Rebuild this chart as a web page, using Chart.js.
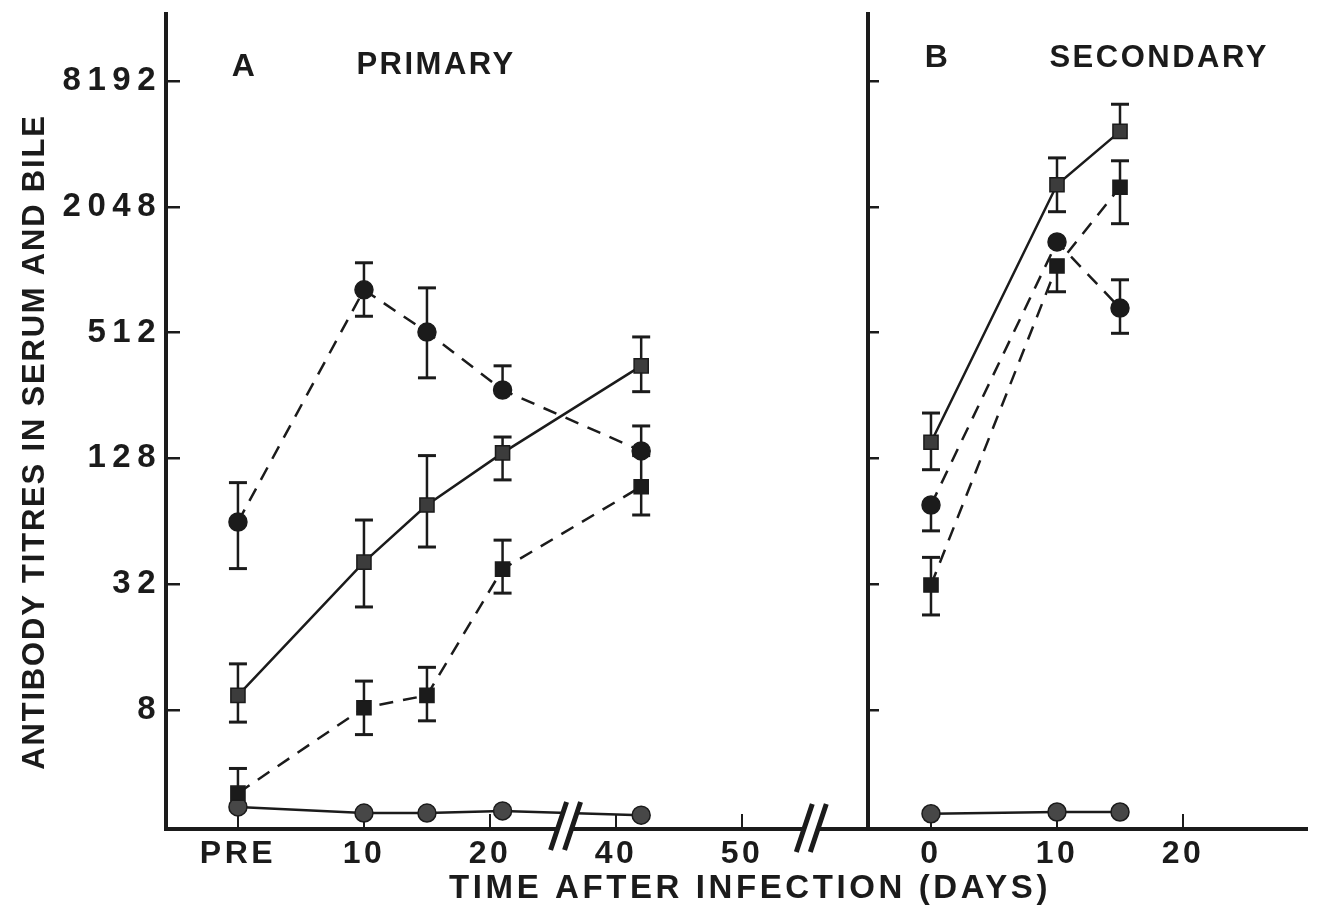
<!DOCTYPE html>
<html>
<head>
<meta charset="utf-8">
<title>Antibody titres after infection</title>
<script src="https://cdn.jsdelivr.net/npm/chart.js@4/dist/chart.umd.min.js"></script>
<style>
  html, body { margin: 0; padding: 0; background: #fff; }
  #wrap { width: 1319px; height: 916px; }
</style>
</head>
<body>
<div id="wrap"><canvas id="titres" width="1319" height="916"></canvas></div>
<script>
"use strict";

// sampling days
var days_a = [0, 10, 15, 21, 42];
var days_b = [0, 10, 15];

// A - primary response (titres, with upper / lower ends of the bars)
var a_circ_dash = [63.5, 820, 515, 272, 139];
var a_circ_dash_hi = [98, 1105, 838, 355, 183];
var a_circ_dash_lo = [38, 613, 311, null, null];

var a_sq_solid = [9.4, 40.8, 76.6, 136, 355];
var a_sq_solid_hi = [13.3, 64.9, 132, 162, 488];
var a_sq_solid_lo = [7.0, 24.9, 48.2, 101, 267];

var a_sq_dash = [3.2, 8.2, 9.4, 37.8, 93.7];
var a_sq_dash_hi = [4.2, 11.0, 12.8, 52, 132];
var a_sq_dash_lo = [null, 6.1, 7.1, 29.0, 68.6];

var a_circ_base = [2.75, 2.57, 2.57, 2.63, 2.51];

// B - secondary response
var b_sq_solid = [153, 2610, 4700];
var b_sq_solid_hi = [211, 3510, 6340];
var b_sq_solid_lo = [113, 1940, null];

var b_circ_dash = [76.6, 1390, 671];
var b_circ_dash_hi = [null, null, 916];
var b_circ_dash_lo = [57.6, null, 508];

var b_sq_dash = [31.7, 1067, 2540];
var b_sq_dash_hi = [43, null, 3400];
var b_sq_dash_lo = [22.8, 803, 1700];

var b_circ_base = [2.55, 2.6, 2.6];

// axis ticks
var y_ticks = [8, 32, 128, 512, 2048, 8192];
var a_tick_days = [0, 10, 20, 40, 50];
var a_tick_labels = ['PRE', '10', '20', '40', '50'];
var b_tick_days = [0, 10, 20];
var b_tick_labels = ['0', '10', '20'];

var ink = '#1b1b1b';
var font_family = '"Liberation Sans", Arial, Helvetica, sans-serif';

// one shared x scale: primary days lose 10 days after the break,
// secondary days start to the right of the second axis
function pos_a(d) { return d >= 30 ? d - 10 : d; }
function pos_b(d) { return 55 + d; }
var b_axis_at = 50;
var break_a_at = 26;
var break_b_at = 45.5;

function points(days, pos, vals) {
    return days.map(function(d, i) { return {x: pos(d), y: vals[i]}; });
}

var x_tick_pos = a_tick_days.map(pos_a).concat(b_tick_days.map(pos_b));
var x_tick_text = a_tick_labels.concat(b_tick_labels);

function line_set(data, dashed, style, fill, hi, lo) {
    return {
        data: data,
        showLine: true,
        borderColor: ink,
        borderWidth: 2.5,
        borderDash: dashed ? [14, 10] : [],
        pointStyle: style,
        pointRadius: style === 'rect' ? 10 : 9,
        pointBackgroundColor: fill,
        pointBorderColor: ink,
        pointBorderWidth: 1.5,
        errHi: hi,
        errLo: lo
    };
}

var datasets = [
    line_set(points(days_a, pos_a, a_circ_dash), true, 'circle', ink, a_circ_dash_hi, a_circ_dash_lo),
    line_set(points(days_a, pos_a, a_sq_solid), false, 'rect', '#3c3c3c', a_sq_solid_hi, a_sq_solid_lo),
    line_set(points(days_a, pos_a, a_sq_dash), true, 'rect', ink, a_sq_dash_hi, a_sq_dash_lo),
    line_set(points(days_a, pos_a, a_circ_base), false, 'circle', '#474747', null, null),
    line_set(points(days_b, pos_b, b_sq_solid), false, 'rect', '#3c3c3c', b_sq_solid_hi, b_sq_solid_lo),
    line_set(points(days_b, pos_b, b_circ_dash), true, 'circle', ink, b_circ_dash_hi, b_circ_dash_lo),
    line_set(points(days_b, pos_b, b_sq_dash), true, 'rect', ink, b_sq_dash_hi, b_sq_dash_lo),
    line_set(points(days_b, pos_b, b_circ_base), false, 'circle', '#474747', null, null)
];

function fixed_y_ticks(scale) {
    scale.ticks = y_ticks.map(function(v) { return {value: v}; });
}

// vertical bars with caps, drawn under the markers
var error_bars = {
    id: 'error_bars',
    beforeDatasetsDraw: function(chart) {
        var ctx = chart.ctx;
        var ys = chart.scales.y;
        ctx.save();
        ctx.strokeStyle = ink;
        chart.data.datasets.forEach(function(ds, i) {
            if (!ds.errHi) {
                return;
            }
            chart.getDatasetMeta(i).data.forEach(function(pt, j) {
                var hi = ds.errHi[j];
                var lo = ds.errLo[j];
                var top = hi != null ? ys.getPixelForValue(hi) : pt.y;
                var bot = lo != null ? ys.getPixelForValue(lo) : pt.y;
                ctx.lineWidth = 2.5;
                ctx.beginPath();
                ctx.moveTo(pt.x, top);
                ctx.lineTo(pt.x, bot);
                ctx.stroke();
                ctx.lineWidth = 3;
                [hi != null ? top : null, lo != null ? bot : null].forEach(function(cy) {
                    if (cy === null) {
                        return;
                    }
                    ctx.beginPath();
                    ctx.moveTo(pt.x - 9, cy);
                    ctx.lineTo(pt.x + 9, cy);
                    ctx.stroke();
                });
            });
        });
        ctx.restore();
    }
};

// tick labels are spaced out; x labels are drawn before the datasets, y labels after
var spacing = {
    id: 'spacing',
    beforeDraw: function(chart) { chart.ctx.letterSpacing = '3.5px'; },
    afterDatasetsDraw: function(chart) { chart.ctx.letterSpacing = '6.5px'; }
};

function draw_break(ctx, cx, cy) {
    var k = 1 / 3;
    ctx.fillStyle = '#fff';
    ctx.beginPath();
    ctx.moveTo(cx - 7 - 20 * k, cy + 20);
    ctx.lineTo(cx - 7 + 20 * k, cy - 20);
    ctx.lineTo(cx + 7 + 20 * k, cy - 20);
    ctx.lineTo(cx + 7 - 20 * k, cy + 20);
    ctx.closePath();
    ctx.fill();
    ctx.strokeStyle = ink;
    ctx.lineWidth = 5;
    [-7, 7].forEach(function(off) {
        ctx.beginPath();
        ctx.moveTo(cx + off - 24 * k, cy + 24);
        ctx.lineTo(cx + off + 24 * k, cy - 24);
        ctx.stroke();
    });
}

function spaced_text(ctx, text, x, y, size, gap, align) {
    ctx.font = 'bold ' + size + 'px ' + font_family;
    ctx.letterSpacing = gap + 'px';
    ctx.textAlign = align;
    ctx.textBaseline = 'middle';
    ctx.fillText(text, x, y);
}

var annotations = {
    id: 'annotations',
    afterDraw: function(chart) {
        var ctx = chart.ctx;
        var xs = chart.scales.x;
        var area = chart.chartArea;
        ctx.save();
        draw_break(ctx, xs.getPixelForValue(break_a_at), area.bottom - 3);
        draw_break(ctx, xs.getPixelForValue(break_b_at), area.bottom - 1);

        ctx.fillStyle = ink;
        spaced_text(ctx, 'A', xs.getPixelForValue(-0.5), 67, 32, 2, 'left');
        spaced_text(ctx, 'PRIMARY', xs.getPixelForValue(9.4), 65, 31, 2.5, 'left');
        spaced_text(ctx, 'B', xs.getPixelForValue(54.5), 58, 32, 2, 'left');
        spaced_text(ctx, 'SECONDARY', xs.getPixelForValue(64.4), 58, 31, 2.5, 'left');

        spaced_text(ctx, 'TIME AFTER INFECTION (DAYS)', 750, 889, 33, 3.6, 'center');

        ctx.translate(35, 442);
        ctx.rotate(-Math.PI / 2);
        spaced_text(ctx, 'ANTIBODY TITRES IN SERUM AND BILE', 0, 0, 31, 1.8, 'center');
        ctx.restore();
    }
};

var y_min = Math.pow(2, 1.108);
var y_max = Math.pow(2, 14.065);

var chart = new Chart(document.getElementById('titres').getContext('2d'), {
    type: 'scatter',
    data: { datasets: datasets },
    options: {
        responsive: false,
        animation: false,
        events: [],
        layout: { padding: { left: 0, top: 14, right: 12, bottom: 0 } },
        plugins: {
            legend: { display: false },
            tooltip: { enabled: false }
        },
        scales: {
            x: {
                type: 'linear',
                position: 'bottom',
                min: -5.71,
                max: 84.84,
                afterBuildTicks: function(scale) {
                    scale.ticks = x_tick_pos.map(function(v) { return {value: v}; });
                },
                afterFit: function(scale) {
                    scale.height = 87;
                    scale.paddingLeft = 0;
                    scale.paddingRight = 0;
                },
                grid: { drawOnChartArea: false, tickLength: -15, lineWidth: 2, color: ink },
                border: { width: 4, color: ink },
                ticks: {
                    autoSkip: false,
                    maxRotation: 0,
                    padding: 21,
                    color: ink,
                    font: { family: font_family, weight: 'bold', size: 32 },
                    callback: function(value, index) { return x_tick_text[index]; }
                }
            },
            y: {
                type: 'logarithmic',
                position: 'left',
                min: y_min,
                max: y_max,
                afterBuildTicks: fixed_y_ticks,
                afterFit: function(scale) {
                    scale.width = 166;
                    scale.paddingTop = 0;
                    scale.paddingBottom = 0;
                },
                grid: { drawOnChartArea: false, tickLength: -14, lineWidth: 2.5, color: ink },
                border: { width: 4, color: ink },
                ticks: {
                    z: 1,
                    padding: 18,
                    color: ink,
                    font: { family: font_family, weight: 'bold', size: 33 },
                    callback: function(value) { return String(value); }
                }
            },
            yB: {
                axis: 'y',
                type: 'logarithmic',
                position: { x: b_axis_at },
                min: y_min,
                max: y_max,
                afterBuildTicks: fixed_y_ticks,
                grid: { drawOnChartArea: false, tickLength: -13, lineWidth: 2.5, color: ink },
                border: { width: 4, color: ink },
                ticks: { display: false }
            }
        }
    },
    plugins: [error_bars, spacing, annotations]
});
</script>
</body>
</html>
